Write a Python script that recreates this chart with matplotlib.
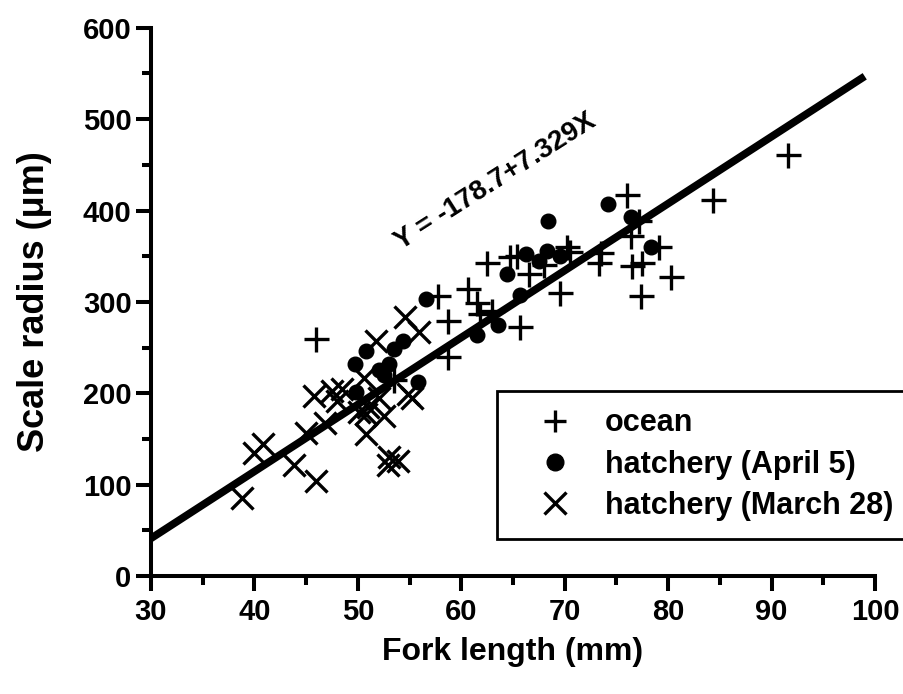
import numpy as np
import matplotlib.pyplot as plt
from matplotlib.ticker import MultipleLocator

plt.rcParams['font.family'] = ['Liberation Sans', 'DejaVu Sans']
plt.rcParams['font.weight'] = 'bold'

# ocean fish (+)
ocean_x = [46.0, 57.7, 58.7, 58.7, 60.6, 61.5, 61.8, 62.5, 63.0, 64.7, 65.4, 65.7,
           66.5, 69.5, 70.2, 70.5, 73.3, 73.5, 76.0, 76.4, 76.5, 77.2, 77.4, 77.5,
           79.1, 80.3, 84.3, 91.6, 68.0, 53.5]
ocean_y = [259, 306, 279, 240, 314, 299, 287, 343, 290, 349, 350, 272,
           330, 310, 360, 355, 343, 354, 417, 372, 339, 388, 306, 343,
           360, 327, 411, 461, 340, 215]

# hatchery April 5 (dots)
april_x = [49.7, 49.8, 50.8, 52.0, 53.0, 53.5, 54.4, 55.8, 56.6, 61.5, 63.5, 64.4,
           65.7, 66.3, 67.5, 68.3, 68.4, 69.5, 74.2, 76.4, 78.3, 52.5]
april_y = [232, 201, 246, 226, 232, 248, 257, 212, 303, 264, 275, 330,
           307, 352, 345, 356, 388, 350, 407, 393, 360, 220]

# hatchery March 28 (x)
march_x = [38.8, 40.0, 40.8, 43.8, 45.0, 45.8, 46.0, 46.8, 47.5, 48.0, 50.1, 50.6,
           50.8, 50.8, 51.0, 51.8, 52.5, 52.9, 53.0, 53.9, 54.6, 54.8, 55.2, 55.9,
           48.5, 52.0]
march_y = [85, 135, 145, 121, 157, 197, 104, 167, 202, 192, 180, 217,
           155, 177, 185, 257, 175, 122, 130, 126, 284, 199, 195, 267,
           205, 195]

# regression Y = a + bX
a = -178.7
b = 7.329
line_x = np.array([30, 99])

fig = plt.figure(figsize=(9.04, 6.94), dpi=100)
ax = fig.add_axes([0.167, 0.170, 0.801, 0.790])

ax.plot(line_x, a + b * line_x, color='black', lw=5.5, solid_capstyle='butt', zorder=2)
ax.plot(ocean_x, ocean_y, ls='none', marker='+', ms=18, mew=2.4, color='black',
        label='ocean', zorder=3)
ax.plot(april_x, april_y, ls='none', marker='o', ms=10.5, color='black',
        label='hatchery (April 5)', zorder=3)
ax.plot(march_x, march_y, ls='none', marker='x', ms=16, mew=2.4, color='black',
        label='hatchery (March 28)', zorder=3)

ax.set_xlim(30, 100)
ax.set_ylim(0, 600)
ax.xaxis.set_major_locator(MultipleLocator(10))
ax.xaxis.set_minor_locator(MultipleLocator(5))
ax.yaxis.set_major_locator(MultipleLocator(100))
ax.yaxis.set_minor_locator(MultipleLocator(50))

for s in ['top', 'right']:
    ax.spines[s].set_visible(False)
for s in ['left', 'bottom']:
    ax.spines[s].set_linewidth(2.9)
    ax.spines[s].set_capstyle('projecting')

ax.tick_params(which='major', direction='out', length=11, width=2.9, labelsize=21)
ax.tick_params(axis='y', which='major', pad=3)
ax.tick_params(axis='x', which='major', pad=5)
ax.tick_params(which='minor', direction='out', length=6.5, width=2.9)

ax.set_xlabel('Fork length (mm)', fontsize=23, fontweight='bold', labelpad=8)
ax.set_ylabel('Scale radius (μm)', fontsize=26, fontweight='bold', labelpad=22)

ax.text(0.548, 0.738, 'Y = -178.7+7.329X', transform=fig.transFigure, fontsize=20,
        fontweight='bold', rotation=32.5, ha='center', va='center',
        rotation_mode='anchor')

leg = ax.legend(loc='upper left', bbox_to_anchor=(0.55, 0.437),
                bbox_transform=fig.transFigure, fontsize=22, frameon=True,
                fancybox=False, framealpha=1, edgecolor='black',
                borderpad=0.58, handlelength=2.6, handletextpad=0.35,
                labelspacing=0.37, borderaxespad=0)
leg.get_frame().set_linewidth(2)
for h in leg.legend_handles:
    h.set_markersize(12 if h.get_marker() == 'o' else 16)

fig.savefig('out.png', dpi=100)
